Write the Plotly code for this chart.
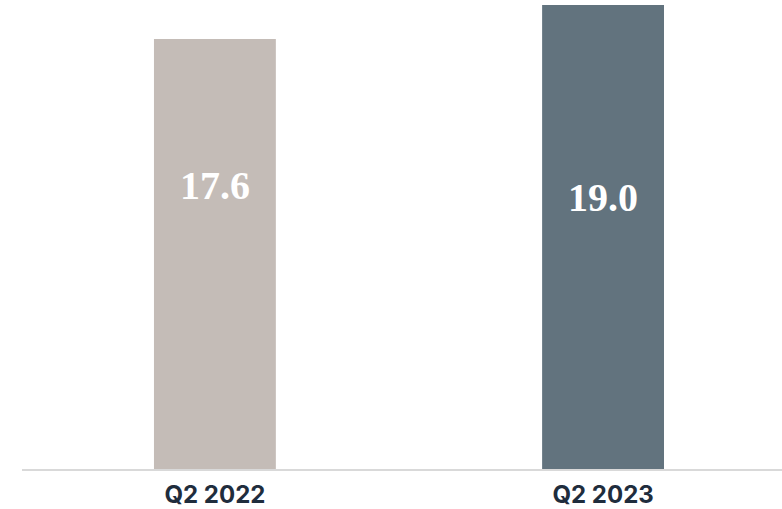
import plotly.graph_objects as go

categories = ["Q2 2022", "Q2 2023"]
values = [17.6, 19.0]
value_labels = ["17.6", "19.0"]
colors = ["#C4BCB7", "#62737E"]
label_frac = [0.66, 0.585]

xpos = list(range(len(categories)))

fig = go.Figure()
fig.add_trace(go.Bar(
    x=xpos, y=values, width=0.314,
    marker=dict(color=colors, line=dict(width=0)),
    hoverinfo="skip",
))

for i, v in enumerate(values):
    fig.add_annotation(
        x=xpos[i], y=v * label_frac[i], text=value_labels[i], showarrow=False,
        font=dict(family="Liberation Serif, serif", size=40, color="white", weight="bold"),
        xanchor="center", yanchor="middle",
    )

fig.update_layout(
    width=782, height=509,
    margin=dict(l=22, r=0, t=0, b=40),
    paper_bgcolor="white", plot_bgcolor="white",
    showlegend=False,
    xaxis=dict(
        range=[-0.497, 1.461],
        tickmode="array", tickvals=xpos, ticktext=categories,
        showgrid=False, zeroline=False,
        showline=True, linecolor="#D9D9D9", linewidth=2,
        ticks="", ticklen=0, ticklabelstandoff=3,
        tickfont=dict(family="Inter, Open Sans, sans-serif", size=24, color="#1F2D3D", weight="bold"),
    ),
    yaxis=dict(
        range=[0, 19.2], visible=False, showgrid=False, zeroline=False,
    ),
)

fig.write_html("out.html")
